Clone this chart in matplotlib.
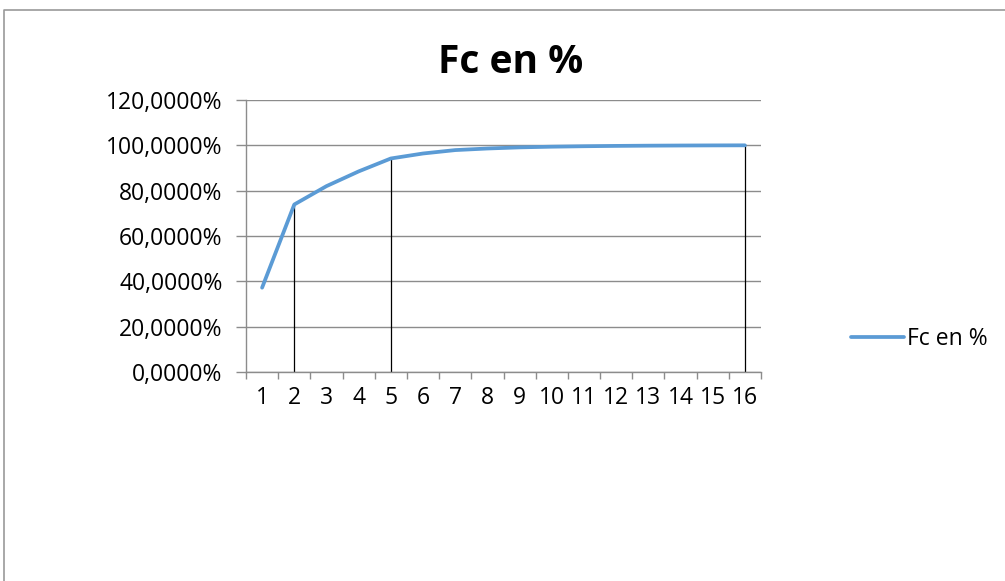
import matplotlib
matplotlib.use("Agg")
import matplotlib.pyplot as plt
from matplotlib.lines import Line2D
from matplotlib.ticker import FixedLocator, FuncFormatter

# Cumulative frequency (Fc) in percent for each class
categories = [str(i) for i in range(1, 17)]
fc_percent = [37.2, 73.9, 82.0, 88.5, 94.2, 96.4, 97.9, 98.6,
              99.1, 99.4, 99.6, 99.75, 99.85, 99.92, 99.97, 100.0]
# Classes marked with a drop line down to the axis
marked = ["2", "5", "16"]
y_ticks = [0, 20, 40, 60, 80, 100, 120]

plt.rcParams["font.family"] = ["Open Sans", "DejaVu Sans"]

W, H = 1005, 581
fig = plt.figure(figsize=(W / 100, H / 100), dpi=100)

# Chart frame (top and left edges visible)
x0, y0 = 3.5 / W, 1 - 9.5 / H
fig.add_artist(Line2D([x0, x0, 1.0], [0.0, y0, y0], transform=fig.transFigure,
                      color="#9a9a9a", lw=1.2))

left, right, top, bottom = 246, 761, 100, 372
ax = fig.add_axes([left / W, 1 - bottom / H, (right - left) / W, (bottom - top) / H])

x = list(range(len(categories)))
line, = ax.plot(x, fc_percent, color="#5B9BD5", lw=2.7, solid_capstyle="round",
                solid_joinstyle="round", label="Fc en %", zorder=3)

for c in marked:
    i = categories.index(c)
    ax.plot([i, i], [0, fc_percent[i]], color="black", lw=0.9, zorder=2)

ax.set_xlim(-0.5, len(categories) - 0.5)
ax.set_ylim(0, 120)

ax.yaxis.set_major_locator(FixedLocator(y_ticks))
ax.yaxis.set_major_formatter(FuncFormatter(lambda v, p: f"{v:.4f}%".replace(".", ",")))
ax.grid(axis="y", color="#8c8c8c", lw=1.0)
ax.set_axisbelow(True)

ax.set_xticks(x)
ax.set_xticklabels(categories)
ax.xaxis.set_minor_locator(FixedLocator([i - 0.5 for i in range(len(categories) + 1)]))
ax.tick_params(axis="x", which="major", length=0, pad=10, labelsize=16.5, colors="black")
ax.tick_params(axis="x", which="minor", length=5, color="#8c8c8c", width=1.0)
ax.tick_params(axis="y", length=7, color="#8c8c8c", width=1.0, labelsize=16.5, pad=10)

for s in ["top", "right"]:
    ax.spines[s].set_visible(False)
for s in ["left", "bottom"]:
    ax.spines[s].set_color("#8c8c8c")
    ax.spines[s].set_linewidth(1.0)

fig.text(511 / W, 1 - 73 / H, "Fc en %", ha="center", va="baseline",
         fontsize=28, fontweight="bold")

fig.legend(handles=[line], loc="center left", bbox_to_anchor=(851 / W, 1 - 339 / H),
           frameon=False, fontsize=16.5, handlelength=2.3, handletextpad=0.15,
           borderpad=0, borderaxespad=0)

fig.savefig("out.png", dpi=100, facecolor="white")
